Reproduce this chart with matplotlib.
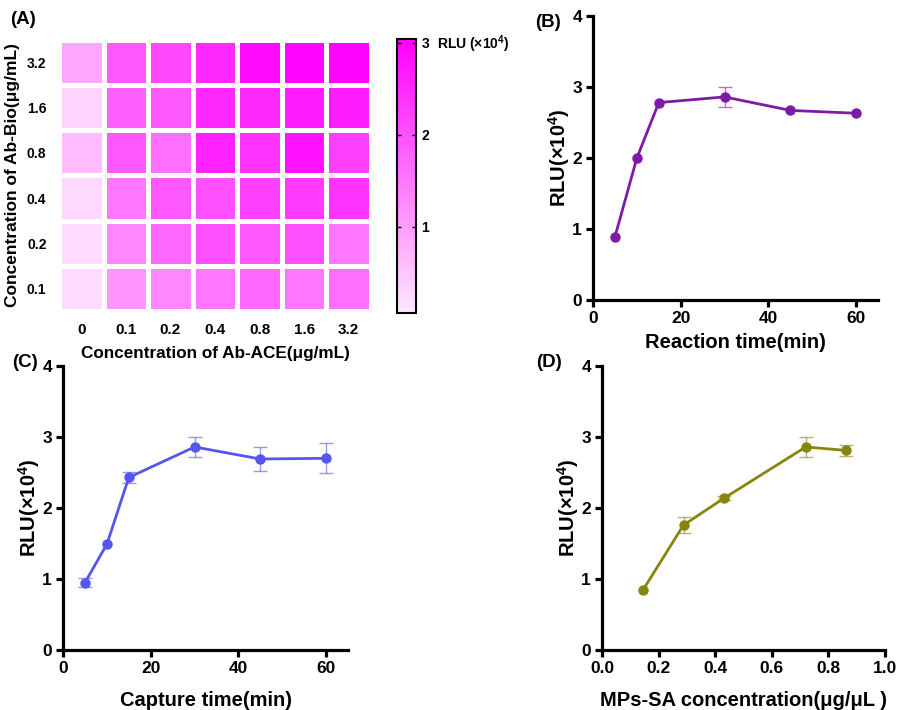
import numpy as np
import matplotlib.pyplot as plt
from matplotlib.colors import LinearSegmentedColormap

plt.rcParams['font.family'] = ['Liberation Sans', 'DejaVu Sans', 'Noto Sans CJK SC']
plt.rcParams['font.weight'] = 'bold'
plt.rcParams['axes.labelweight'] = 'bold'
plt.rcParams['mathtext.fontset'] = 'custom'
plt.rcParams['mathtext.rm'] = 'Liberation Sans:bold'
plt.rcParams['mathtext.it'] = 'Liberation Sans:bold'
plt.rcParams['mathtext.bf'] = 'Liberation Sans:bold'

# (A) heatmap data, rows from top (3.2) to bottom (0.1)
ace_labels = ['0', '0.1', '0.2', '0.4', '0.8', '1.6', '3.2']
bio_labels = ['3.2', '1.6', '0.8', '0.4', '0.2', '0.1']
rlu_grid = np.array([
    [0.9, 1.9, 2.1, 2.5, 2.9, 2.95, 3.0],
    [0.3, 1.8, 1.9, 2.5, 2.5, 2.7, 2.7],
    [0.6, 1.9, 1.6, 2.6, 2.4, 2.8, 2.2],
    [0.25, 1.5, 1.9, 2.0, 2.2, 2.3, 2.35],
    [0.2, 1.3, 1.7, 2.0, 1.9, 2.0, 1.5],
    [0.2, 1.1, 1.3, 1.5, 1.7, 1.5, 1.6],
])

# (B) reaction time
reaction_time = [5, 10, 15, 30, 45, 60]
reaction_rlu = [0.89, 2.0, 2.78, 2.86, 2.67, 2.63]
reaction_err = [0.0, 0.0, 0.0, 0.14, 0.0, 0.0]

# (C) capture time
capture_time = [5, 10, 15, 30, 45, 60]
capture_rlu = [0.95, 1.49, 2.43, 2.86, 2.69, 2.70]
capture_err = [0.06, 0.0, 0.08, 0.14, 0.165, 0.21]

# (D) MPs-SA concentration
mps_conc = [0.144, 0.288, 0.432, 0.72, 0.864]
mps_rlu = [0.84, 1.76, 2.14, 2.86, 2.81]
mps_err = [0.0, 0.11, 0.03, 0.14, 0.075]

fig = plt.figure(figsize=(8.98, 7.10), dpi=100)

# ---- (A)
ax_a = fig.add_axes([0.0657, 0.562, 0.3474, 0.3817])
cmap = LinearSegmentedColormap.from_list('pink_magenta', ['#FFE6FF', '#FF00FF'])
mesh = ax_a.pcolormesh(rlu_grid[::-1], cmap=cmap, vmin=0.065, vmax=3.04,
                       edgecolors='white', linewidth=3.4)
ax_a.set_xticks(np.arange(len(ace_labels)) + 0.5)
ax_a.set_xticklabels(ace_labels, fontsize=11)
ax_a.set_yticks(np.arange(len(bio_labels)) + 0.5)
ax_a.set_yticklabels(bio_labels[::-1], fontsize=10)
ax_a.tick_params(length=0, pad=9)
for s in ax_a.spines.values():
    s.set_visible(False)
ax_a.set_xlabel('Concentration of Ab-ACE(μg/mL)', fontsize=12.3, labelpad=6)
ax_a.set_ylabel('Concentration of Ab-Bio(μg/mL)', fontsize=12.5, labelpad=5)

cax = fig.add_axes([0.4421, 0.5592, 0.0212, 0.386])
cb = fig.colorbar(mesh, cax=cax, ticks=[1, 2, 3])
cb.outline.set_linewidth(1.5)
cax.tick_params(direction='in', left=True, right=True, length=3, width=1,
                labelsize=10, pad=4)
fig.text(0.487, 0.938, 'RLU (×10$^{4}$)', fontsize=10,
         va='center', ha='left')


def line_panel(rect, x, y, err, color, xlim, xticks, xlabel, xpad):
    ax = fig.add_axes(rect)
    ax.plot(x, y, color=color, lw=2, marker='o', ms=6.5)
    err = np.asarray(err)
    has_err = err > 0
    ax.errorbar(np.asarray(x)[has_err], np.asarray(y)[has_err], yerr=err[has_err],
                fmt='none', ecolor=color, elinewidth=1, capsize=5, capthick=1,
                alpha=0.6)
    ax.set_xlim(*xlim)
    ax.set_ylim(0, 4)
    ax.set_xticks(xticks)
    ax.set_yticks([0, 1, 2, 3, 4])
    ax.spines['top'].set_visible(False)
    ax.spines['right'].set_visible(False)
    ax.spines['left'].set_linewidth(2.3)
    ax.spines['bottom'].set_linewidth(2.3)
    ax.tick_params(length=5, width=2.3, labelsize=12.5, pad=3)
    ax.set_xlabel(xlabel, fontsize=14.5, labelpad=xpad)
    ax.set_ylabel('RLU(×10$^{4}$)', fontsize=14.5, labelpad=0)
    return ax


line_panel([0.6604, 0.5775, 0.3174, 0.4], reaction_time, reaction_rlu, reaction_err,
           '#7E1BA6', (0, 65), [0, 20, 40, 60], 'Reaction time(min)', 5)
line_panel([0.0702, 0.0845, 0.3174, 0.4], capture_time, capture_rlu, capture_err,
           '#5656EE', (0, 65), [0, 20, 40, 60], 'Capture time(min)', 11)
line_panel([0.6704, 0.0845, 0.3151, 0.4], mps_conc, mps_rlu, mps_err,
           '#86860E', (0, 1.0), [0.0, 0.2, 0.4, 0.6, 0.8, 1.0],
           'MPs-SA concentration(μg/μL )', 11)

fig.text(0.011, 0.972, '(A)', fontsize=13.5, va='center')
fig.text(0.596, 0.969, '(B)', fontsize=13.5, va='center')
fig.text(0.013, 0.490, '(C)', fontsize=13.5, va='center')
fig.text(0.597, 0.490, '(D)', fontsize=13.5, va='center')

fig.savefig('out.png', dpi=100)
